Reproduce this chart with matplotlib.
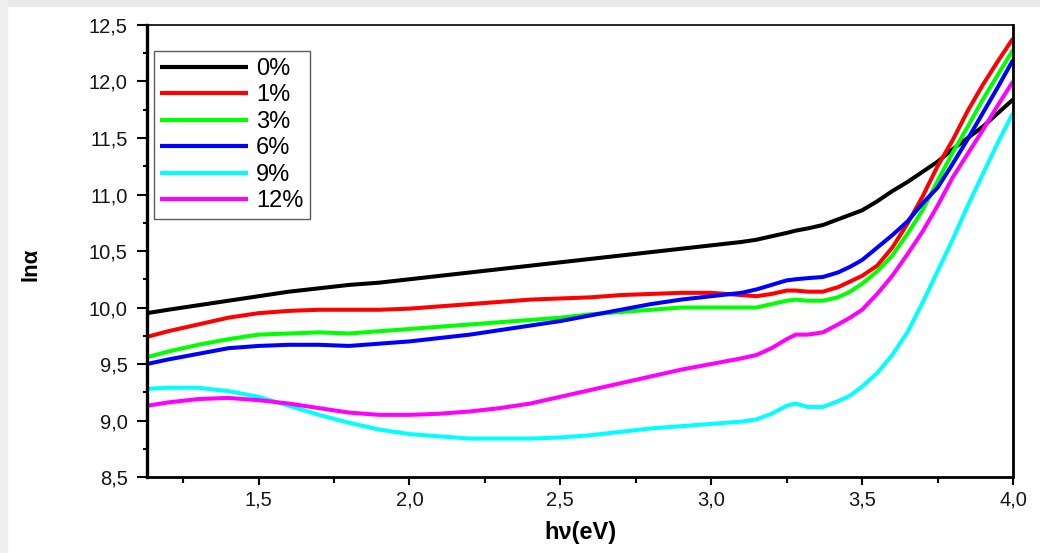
import numpy as np
import matplotlib
matplotlib.use("Agg")
from matplotlib import pyplot as plt
from matplotlib.ticker import MultipleLocator, FuncFormatter
from matplotlib.patches import Rectangle

plt.rcParams['font.family'] = ['Liberation Sans', 'DejaVu Sans']

# photon energy (eV), shared by all samples
HV = [1.13, 1.2, 1.3, 1.4, 1.5, 1.6, 1.7, 1.8, 1.9, 2.0,
      2.1, 2.2, 2.3, 2.4, 2.5, 2.6, 2.7, 2.8, 2.9, 3.0,
      3.1, 3.15, 3.2, 3.25, 3.28, 3.32, 3.37, 3.42, 3.46, 3.5,
      3.55, 3.6, 3.65, 3.7, 3.75, 3.8, 3.85, 3.9, 3.95, 4.0]

LN_A_0 = [9.95, 9.98, 10.02, 10.06, 10.10, 10.14, 10.17, 10.20, 10.22, 10.25,
          10.28, 10.31, 10.34, 10.37, 10.40, 10.43, 10.46, 10.49, 10.52, 10.55,
          10.58, 10.60, 10.63, 10.66, 10.68, 10.70, 10.73, 10.78, 10.82, 10.86,
          10.94, 11.03, 11.11, 11.20, 11.29, 11.40, 11.50, 11.60, 11.72, 11.84]
LN_A_1 = [9.74, 9.79, 9.85, 9.91, 9.95, 9.97, 9.98, 9.98, 9.98, 9.99,
          10.01, 10.03, 10.05, 10.07, 10.08, 10.09, 10.11, 10.12, 10.13, 10.13,
          10.11, 10.10, 10.12, 10.15, 10.15, 10.14, 10.14, 10.18, 10.23, 10.28,
          10.37, 10.53, 10.74, 10.98, 11.25, 11.48, 11.74, 11.97, 12.18, 12.38]
LN_A_3 = [9.56, 9.61, 9.67, 9.72, 9.76, 9.77, 9.78, 9.77, 9.79, 9.81,
          9.83, 9.85, 9.87, 9.89, 9.91, 9.94, 9.96, 9.98, 10.00, 10.00,
          10.00, 10.00, 10.03, 10.06, 10.07, 10.06, 10.06, 10.09, 10.14, 10.21,
          10.32, 10.46, 10.65, 10.86, 11.12, 11.37, 11.60, 11.84, 12.06, 12.28]
LN_A_6 = [9.50, 9.54, 9.59, 9.64, 9.66, 9.67, 9.67, 9.66, 9.68, 9.70,
          9.73, 9.76, 9.80, 9.84, 9.88, 9.93, 9.98, 10.03, 10.07, 10.10,
          10.13, 10.16, 10.20, 10.24, 10.25, 10.26, 10.27, 10.31, 10.36, 10.42,
          10.53, 10.64, 10.76, 10.92, 11.06, 11.27, 11.49, 11.72, 11.95, 12.19]
LN_A_9 = [9.28, 9.29, 9.29, 9.26, 9.21, 9.13, 9.05, 8.98, 8.92, 8.88,
          8.86, 8.84, 8.84, 8.84, 8.85, 8.87, 8.90, 8.93, 8.95, 8.97,
          8.99, 9.01, 9.06, 9.13, 9.15, 9.12, 9.12, 9.17, 9.22, 9.30,
          9.42, 9.58, 9.78, 10.04, 10.32, 10.60, 10.90, 11.18, 11.46, 11.72]
LN_A_12 = [9.13, 9.16, 9.19, 9.20, 9.18, 9.15, 9.11, 9.07, 9.05, 9.05,
           9.06, 9.08, 9.11, 9.15, 9.21, 9.27, 9.33, 9.39, 9.45, 9.50,
           9.55, 9.58, 9.64, 9.72, 9.76, 9.76, 9.78, 9.85, 9.91, 9.98,
           10.12, 10.28, 10.47, 10.67, 10.90, 11.15, 11.36, 11.57, 11.79, 12.00]

LABELS = ["0%", "1%", "3%", "6%", "9%", "12%"]
COLORS = ["#000000", "#ff0000", "#00ff00", "#0000ff", "#00ffff", "#ff00ff"]
SERIES = [LN_A_0, LN_A_1, LN_A_3, LN_A_6, LN_A_9, LN_A_12]

figure = plt.figure(figsize=(10.4, 5.53), dpi=100)
# light grey frame strips along the top and left edges
figure.patches.append(Rectangle((0, 0.989), 1, 0.011, transform=figure.transFigure,
                                color="#e9e9e9", zorder=0))
figure.patches.append(Rectangle((0, 0), 0.0067, 1, transform=figure.transFigure,
                                color="#eeeeee", zorder=0))

plot = figure.add_axes([0.1413, 0.1374, 0.8327, 0.8174])

for values, label, color in zip(SERIES, LABELS, COLORS):
    plot.plot(HV, values, color=color, lw=2.9, label=label, solid_capstyle='butt')

plot.set_xlim(1.13, 4.0)
plot.set_ylim(8.5, 12.5)

comma = FuncFormatter(lambda v, pos: ("%.1f" % v).replace(".", ","))
plot.xaxis.set_major_locator(MultipleLocator(0.5))
plot.xaxis.set_minor_locator(MultipleLocator(0.25))
plot.yaxis.set_major_locator(MultipleLocator(0.5))
plot.yaxis.set_minor_locator(MultipleLocator(0.25))
plot.xaxis.set_major_formatter(comma)
plot.yaxis.set_major_formatter(comma)

plot.tick_params(axis='both', which='major', direction='out', width=1.5,
                 labelsize=14.5, labelcolor='#151515')
plot.tick_params(axis='x', which='major', length=6, pad=4)
plot.tick_params(axis='x', which='minor', length=4.5, width=1.5)
plot.tick_params(axis='y', which='major', length=7, pad=7)
plot.tick_params(axis='y', which='minor', length=3, width=1.5)

plot.spines['left'].set_linewidth(2.4)
plot.spines['bottom'].set_linewidth(2.0)
plot.spines['right'].set_linewidth(2.0)
plot.spines['top'].set_linewidth(1.2)

plot.set_xlabel("h\u03bd(eV)", fontsize=17, fontweight='bold', labelpad=8)
plot.set_ylabel("ln\u03b1", fontsize=16, fontweight='bold')
plot.yaxis.set_label_coords(-0.122, 0.47)

legend = plot.legend(loc='upper left', bbox_to_anchor=(0.008, 0.942), fontsize=17,
                     handlelength=3.7, handletextpad=0.35, labelspacing=0.19,
                     borderpad=0.28, borderaxespad=0, fancybox=False, frameon=True)
legend.get_frame().set_edgecolor('#333333')
legend.get_frame().set_linewidth(1.0)
for line in legend.get_lines():
    line.set_linewidth(3.0)

figure.savefig("out.png", dpi=100)
plt.close(figure)
